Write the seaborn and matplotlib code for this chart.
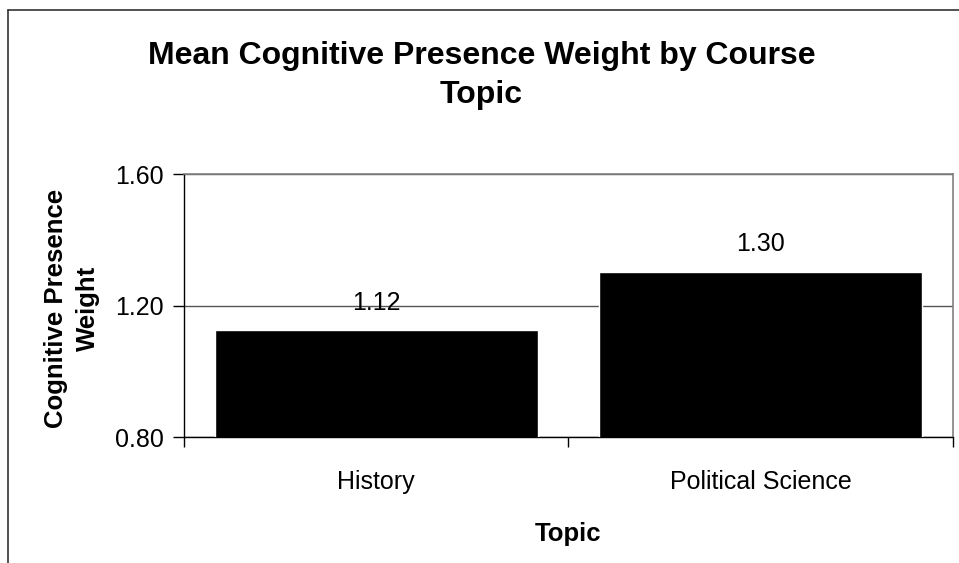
import matplotlib
matplotlib.use("Agg")
import matplotlib.pyplot as plt
from matplotlib.lines import Line2D
import seaborn as sns
import pandas as pd

# chart data
topics = ["History", "Political Science"]
weights = [1.124, 1.303]
value_labels = ["1.12", "1.30"]
y_ticks = [0.80, 1.20, 1.60]

df = pd.DataFrame({"Topic": topics, "Weight": weights})

sns.set_style("white")
plt.rcParams["font.family"] = ["Liberation Sans", "DejaVu Sans"]
plt.rcParams["text.color"] = "black"
plt.rcParams["axes.labelcolor"] = "black"
plt.rcParams["xtick.color"] = "black"
plt.rcParams["ytick.color"] = "black"

fig = plt.figure(figsize=(9.59, 5.63), dpi=100)
ax = fig.add_axes([0.1919, 0.2238, 0.8018, 0.4671])

sns.barplot(data=df, x="Topic", y="Weight", color="black", width=0.84,
            saturation=1, ax=ax, zorder=3)

ax.set_ylim(0.8, 1.6)
ax.set_xlim(-0.5, 1.5)
ax.set_yticks(y_ticks)
ax.set_yticklabels([f"{t:.2f}" for t in y_ticks], fontsize=18)
ax.tick_params(axis="y", direction="out", length=8, width=1, color="black",
               left=True, pad=6.5)
ax.tick_params(axis="x", which="major", length=0, labelsize=18, pad=24)
ax.set_xticks([-0.5, 0.5, 1.5], minor=True)
ax.tick_params(axis="x", which="minor", direction="out", length=7,
               width=1, color="black", bottom=True)

ax.yaxis.grid(True, color="#555555", linewidth=1, zorder=0)
ax.set_axisbelow(True)

for side in ["left", "bottom"]:
    ax.spines[side].set_color("black")
    ax.spines[side].set_linewidth(1)
for side in ["top", "right"]:
    ax.spines[side].set_visible(True)
    ax.spines[side].set_color("#808080")
    ax.spines[side].set_linewidth(1.2)

for i, (v, lab) in enumerate(zip(weights, value_labels)):
    ax.annotate(lab, (i, v), xytext=(0, 20), textcoords="offset points",
                ha="center", va="center", fontsize=18, zorder=5)

ax.set_xlabel("Topic", fontsize=18.5, fontweight="bold")
ax.xaxis.set_label_coords(0.5, -0.37)
ax.xaxis.label.set_va("center")
ax.set_ylabel("Cognitive Presence\nWeight", fontsize=18.5, fontweight="bold",
              linespacing=1.4)
ax.yaxis.set_label_coords(-0.146, 0.49)
ax.yaxis.label.set_va("center")
ax.yaxis.label.set_ha("center")

fig.text(0.502, 0.866, "Mean Cognitive Presence Weight by Course\nTopic",
         ha="center", va="center", fontsize=23, fontweight="bold",
         linespacing=1.4)

# outer chart frame (left and top edges visible)
fig.add_artist(Line2D([8 / 959, 8 / 959], [0, 1 - 10 / 563],
                      transform=fig.transFigure, color="#333333", linewidth=1.2))
fig.add_artist(Line2D([8 / 959, 1], [1 - 10 / 563, 1 - 10 / 563],
                      transform=fig.transFigure, color="#333333", linewidth=1.2))

fig.savefig("out.png", dpi=100)
